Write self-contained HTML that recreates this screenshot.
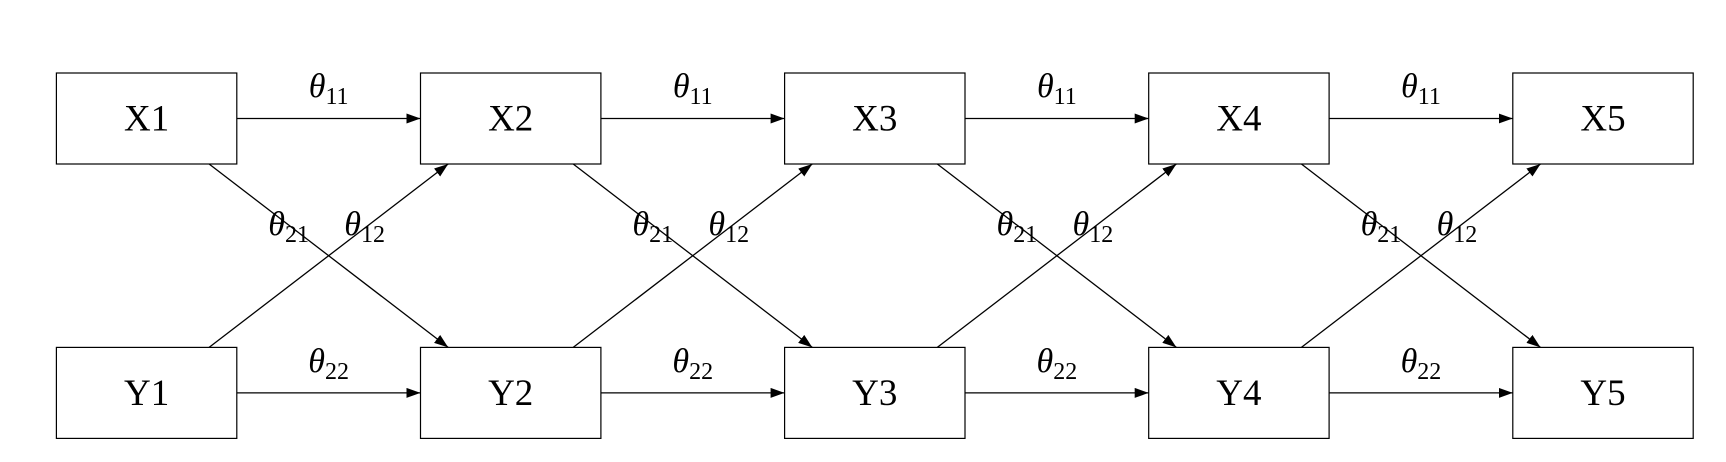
<!DOCTYPE html>
<html><head><meta charset="utf-8"><style>
html,body{margin:0;padding:0;background:#fff;}
svg{display:block;font-family:"Liberation Serif","DejaVu Serif",serif;}
</style></head><body>
<svg id="d" width="1726" height="462" viewBox="0 0 1726 462">
<defs><marker id="ah" markerWidth="14" markerHeight="10" refX="14" refY="5" orient="auto" markerUnits="userSpaceOnUse"><path d="M0,0 L14,5 L0,10 z" fill="#000"/></marker></defs>
</svg>
<script>
const topLabels = ["X1","X2","X3","X4","X5"];
const botLabels = ["Y1","Y2","Y3","Y4","Y5"];
const hTop = ["11","11","11","11"];
const hBot = ["22","22","22","22"];
const crossA = ["21","21","21","21"];
const crossB = ["12","12","12","12"];
const svg = document.getElementById('d');
const NS = 'http://www.w3.org/2000/svg';
const X0 = 56.4, STEP = 364.1, W = 180.4, TOPY = 73, BOTY = 347.4, H = 91;
function bx(i){ return X0 + i*STEP; }
function el(tag, attrs){ const e=document.createElementNS(NS,tag); for(const k in attrs) e.setAttribute(k,attrs[k]); svg.appendChild(e); return e; }
function theta(x,y,sub,name){
  const t=el('text',{x:x,y:y,'text-anchor':'middle','font-size':'34'});
  
  
  const a=document.createElementNS(NS,'tspan'); a.setAttribute('font-style','italic'); a.textContent='θ'; t.appendChild(a);
  const b=document.createElementNS(NS,'tspan'); b.setAttribute('font-size','24'); b.setAttribute('dy','7'); b.textContent=sub; t.appendChild(b);
}
function box(i,y,label,name){
  const r=el('rect',{x:bx(i),y:y,width:W,height:H,fill:'#fff',stroke:'#000','stroke-width':'1.2'});
  
  
  const t=el('text',{x:bx(i)+W/2,y:y+H/2+12,'text-anchor':'middle','font-size':'37'});
  t.textContent=label;
  
  
}
function arrow(x1,y1,x2,y2,name){
  const l=el('line',{x1:x1,y1:y1,x2:x2,y2:y2,stroke:'#000','stroke-width':'1.3','marker-end':'url(#ah)'});
  
  
}
for(let i=0;i<hTop.length;i++){
  arrow(bx(i)+W, TOPY+H/2, bx(i+1), TOPY+H/2, 'arrow-x'+(i+1)+'-x'+(i+2));
  arrow(bx(i)+W, BOTY+H/2, bx(i+1), BOTY+H/2, 'arrow-y'+(i+1)+'-y'+(i+2));
  arrow(bx(i)+152.7, TOPY+H, bx(i+1)+27.7, BOTY, 'arrow-x'+(i+1)+'-y'+(i+2));
  arrow(bx(i)+152.7, BOTY, bx(i+1)+27.7, TOPY+H, 'arrow-y'+(i+1)+'-x'+(i+2));
  const mid = bx(i)+W+(STEP-W)/2;
  theta(mid, 97, hTop[i], 'theta-top-'+(i+1));
  theta(mid, 372, hBot[i], 'theta-bottom-'+(i+1));
  theta(mid-40, 235, crossA[i], 'theta-cross-a-'+(i+1));
  theta(mid+36, 235, crossB[i], 'theta-cross-b-'+(i+1));
}
for(let i=0;i<topLabels.length;i++){
  box(i,TOPY,topLabels[i],topLabels[i].toLowerCase());
  box(i,BOTY,botLabels[i],botLabels[i].toLowerCase());
}
</script>
</body></html>
